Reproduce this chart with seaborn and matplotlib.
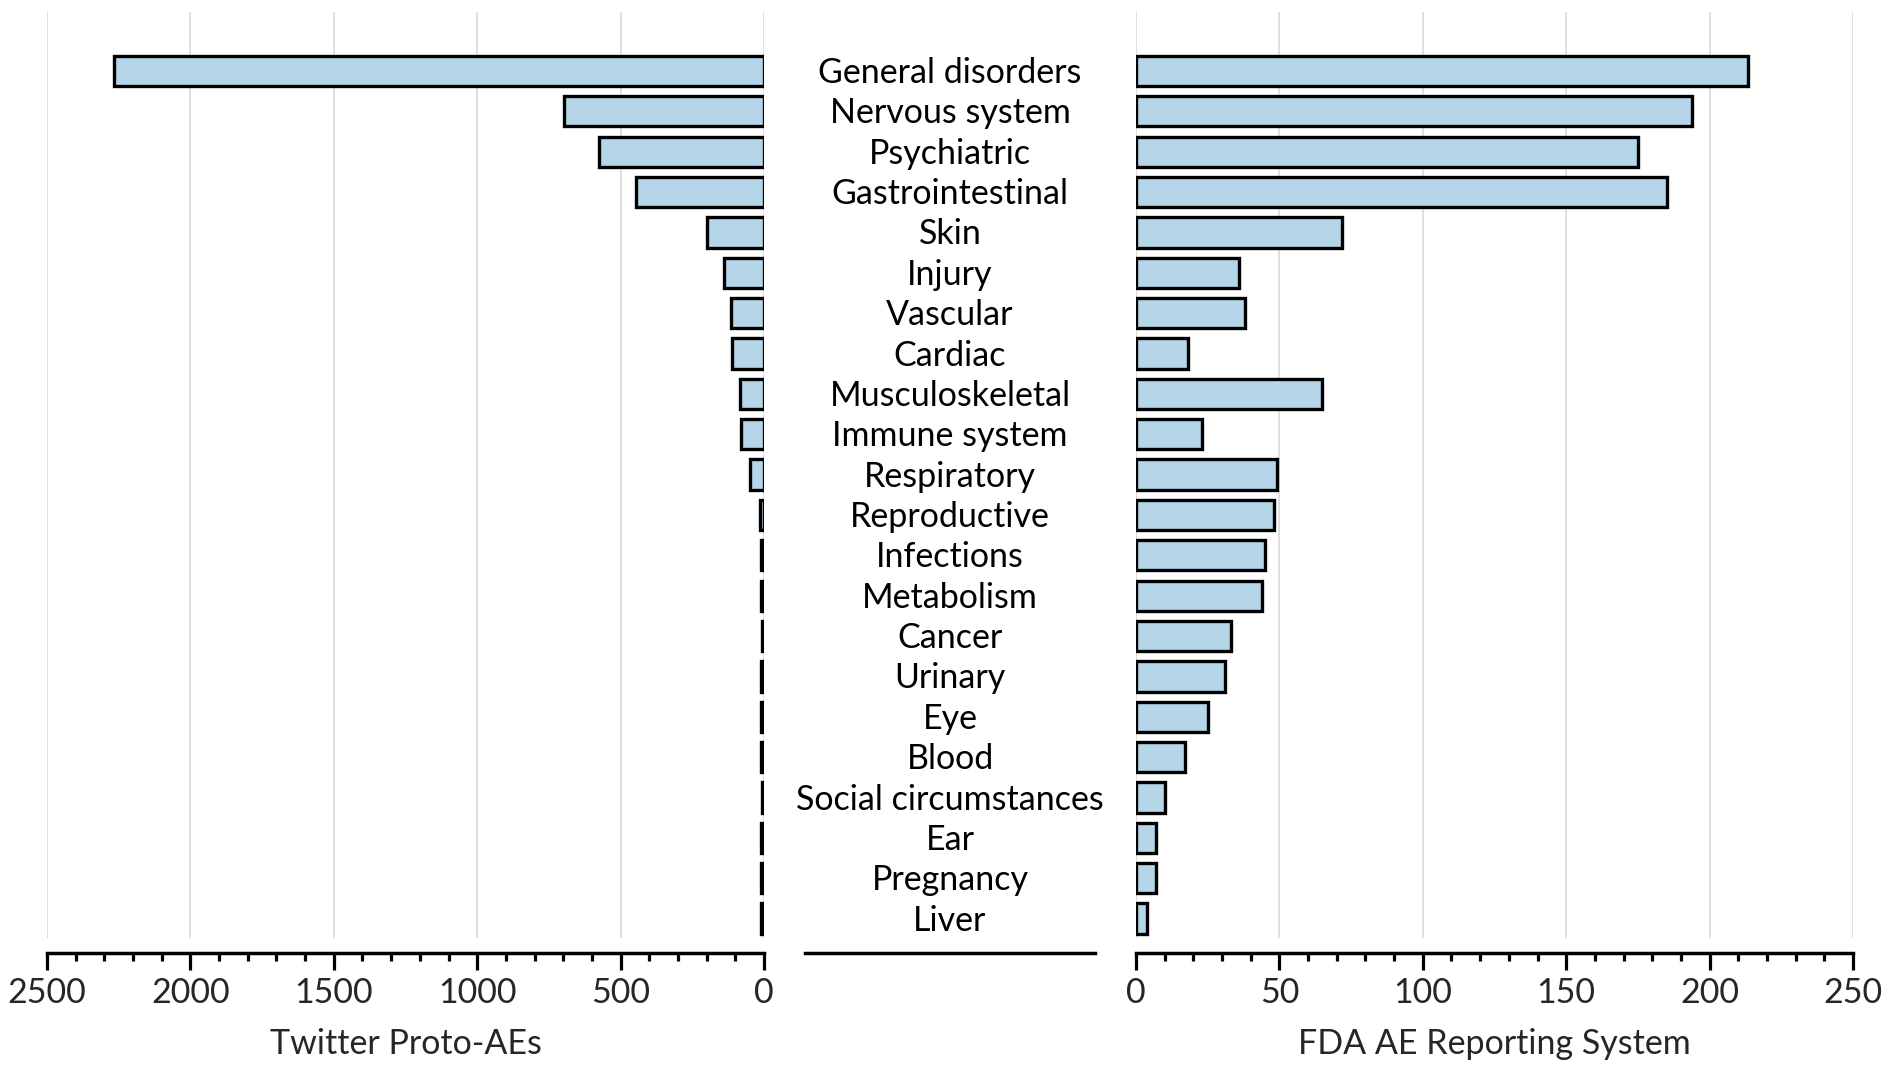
import matplotlib
matplotlib.use("Agg")
import matplotlib.pyplot as plt
from matplotlib.ticker import MultipleLocator
import seaborn as sns
import pandas as pd

categories = ["General disorders", "Nervous system", "Psychiatric", "Gastrointestinal",
              "Skin", "Injury", "Vascular", "Cardiac", "Musculoskeletal", "Immune system",
              "Respiratory", "Reproductive", "Infections", "Metabolism", "Cancer",
              "Urinary", "Eye", "Blood", "Social circumstances", "Ear", "Pregnancy", "Liver"]
twitter_values = [2265, 696, 577, 445, 200, 140, 115, 110, 85, 80, 50,
                  15, 12, 11, 6, 10, 10, 9, 6, 10, 9, 9]
fda_values = [213.5, 194, 175, 185, 72, 36, 38, 18, 65, 23, 49,
              48, 45, 44, 33, 31, 25, 17, 10, 7, 7, 4]
left_label = "Twitter Proto-AEs"
right_label = "FDA AE Reporting System"

df = pd.DataFrame({"category": categories, "twitter": twitter_values, "fda": fda_values})

sns.set_theme(style="white")
plt.rcParams["font.family"] = ["Lato", "DejaVu Sans"]

W, H = 1887, 1066
fig = plt.figure(figsize=(W / 100, H / 100), dpi=100)

bottom = 1 - 938 / H
top = 1 - 12 / H
hgt = top - bottom
ax_l = fig.add_axes([47 / W, bottom, 717 / W, hgt])
ax_m = fig.add_axes([805 / W, bottom, 290 / W, hgt])
ax_r = fig.add_axes([1136 / W, bottom, 717 / W, hgt])

bar_color = "#b4d6e8"
ylim = (21.48, -1.46)
fs = 24.5

for ax, col, lim, major, minor, lab in [
        (ax_l, "twitter", (2500, 0), 500, 100, left_label),
        (ax_r, "fda", (0, 250), 50, 10, right_label)]:
    sns.barplot(data=df, x=col, y="category", orient="h", color=bar_color,
                saturation=1, edgecolor="black", linewidth=2.4, width=0.75, ax=ax, zorder=3)
    ax.set_xlim(*lim)
    ax.set_ylim(*ylim)
    ax.set_yticks([])
    ax.set_ylabel("")
    ax.xaxis.set_major_locator(MultipleLocator(major))
    ax.xaxis.set_minor_locator(MultipleLocator(minor))
    ax.grid(axis="x", color="#dcdcdc", linewidth=1.3, zorder=0)
    ax.set_axisbelow(True)
    for s in ["top", "left", "right"]:
        ax.spines[s].set_visible(False)
    ax.spines["bottom"].set_position(("outward", 11))
    ax.spines["bottom"].set_linewidth(2.5)
    ax.spines["bottom"].set_color("black")
    ax.tick_params(axis="x", which="major", length=12, width=2.3, color="black",
                   labelsize=fs, pad=5, bottom=True)
    ax.tick_params(axis="x", which="minor", length=6, width=2.3, color="black", bottom=True)
    ax.set_xlabel(lab, fontsize=fs, labelpad=14)

# middle panel with category labels
ax_m.set_ylim(*ylim)
ax_m.set_xlim(0, 1)
ax_m.set_xticks([])
ax_m.set_yticks([])
for s in ["top", "left", "right"]:
    ax_m.spines[s].set_visible(False)
ax_m.spines["bottom"].set_position(("outward", 11))
ax_m.spines["bottom"].set_linewidth(2.5)
ax_m.spines["bottom"].set_color("black")
ax_m.set_facecolor("none")
for i, c in enumerate(categories):
    ax_m.text(0.5, i + 0.05, c, ha="center", va="center", fontsize=fs, color="black")

fig.savefig("out.png", dpi=100, facecolor="white")
